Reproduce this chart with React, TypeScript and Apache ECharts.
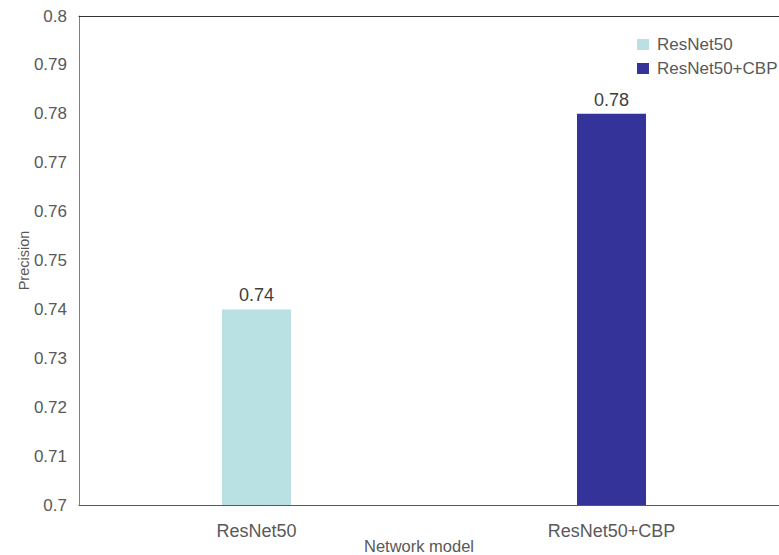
import React, { useEffect, useRef } from "react";
import * as echarts from "echarts";

const categories = ["ResNet50", "ResNet50+CBP"];
const seriesNames = ["ResNet50", "ResNet50+CBP"];
const resnetValues = [0.74, null];
const cbpValues = [null, 0.78];
const seriesColors = ["#b9e0e3", "#333399"];

const FONT = "Arial, 'Liberation Sans', sans-serif";

export default function App() {
  const ref = useRef<HTMLDivElement>(null);

  useEffect(() => {
    if (!ref.current) return;
    const chart = echarts.init(ref.current, null, { renderer: "svg" });
    const mkSeries = (name: string, data: (number | null)[], color: string) => ({
      name,
      type: "bar",
      stack: "all",
      data,
      barWidth: 69,
      itemStyle: { color },
      label: {
        show: true,
        position: "top",
        distance: 5,
        color: "#404040",
        fontSize: 18,
        fontFamily: FONT,
        formatter: (p: any) => Number(p.value).toFixed(2),
      },
    });
    chart.setOption({
      animation: false,
      backgroundColor: "#ffffff",
      textStyle: { fontFamily: FONT },
      grid: {
        left: 79,
        right: -10,
        top: 16,
        bottom: 50,
        containLabel: false,
        outerBoundsMode: "none",
      },
      legend: {
        orient: "vertical",
        left: 632,
        top: 31,
        itemWidth: 12,
        itemHeight: 11,
        itemGap: 7,
        icon: "rect",
        data: seriesNames,
        textStyle: {
          color: "#595959",
          fontSize: 17,
          fontFamily: FONT,
          padding: [0, 0, 0, 3],
        },
      },
      xAxis: [
        {
          type: "category",
          data: categories,
          name: "Network model",
          nameLocation: "middle",
          nameGap: 32,
          nameMoveOverlap: false,
          nameTextStyle: {
            color: "#595959",
            fontSize: 16.5,
            fontFamily: FONT,
            padding: [0, 30, 0, 0],
          },
          axisLine: { show: true, lineStyle: { color: "#595959", width: 1 } },
          axisTick: { show: false },
          axisLabel: { color: "#595959", fontSize: 18, fontFamily: FONT, margin: 17 },
        },
        {
          type: "category",
          position: "top",
          data: categories,
          axisLine: { show: true, lineStyle: { color: "#333333", width: 1 } },
          axisTick: { show: false },
          axisLabel: { show: false },
        },
      ],
      yAxis: {
        type: "value",
        min: 0.7,
        max: 0.8,
        interval: 0.01,
        name: "Precision",
        nameLocation: "middle",
        nameGap: 48,
        nameMoveOverlap: false,
        nameTextStyle: { color: "#595959", fontSize: 14.5, fontFamily: FONT },
        axisLine: { show: true, lineStyle: { color: "#7f7f7f", width: 1 } },
        axisTick: { show: false },
        splitLine: { show: false },
        axisLabel: {
          color: "#595959",
          fontSize: 17,
          fontFamily: FONT,
          margin: 12,
          formatter: (v: number) => String(Math.round(v * 100) / 100),
        },
      },
      series: [
        mkSeries(seriesNames[0], resnetValues, seriesColors[0]),
        mkSeries(seriesNames[1], cbpValues, seriesColors[1]),
      ],
    });
    return () => chart.dispose();
  }, []);

  return <div ref={ref} style={{ width: 779, height: 555, position: "fixed", left: 0, top: 0 }} />;
}
